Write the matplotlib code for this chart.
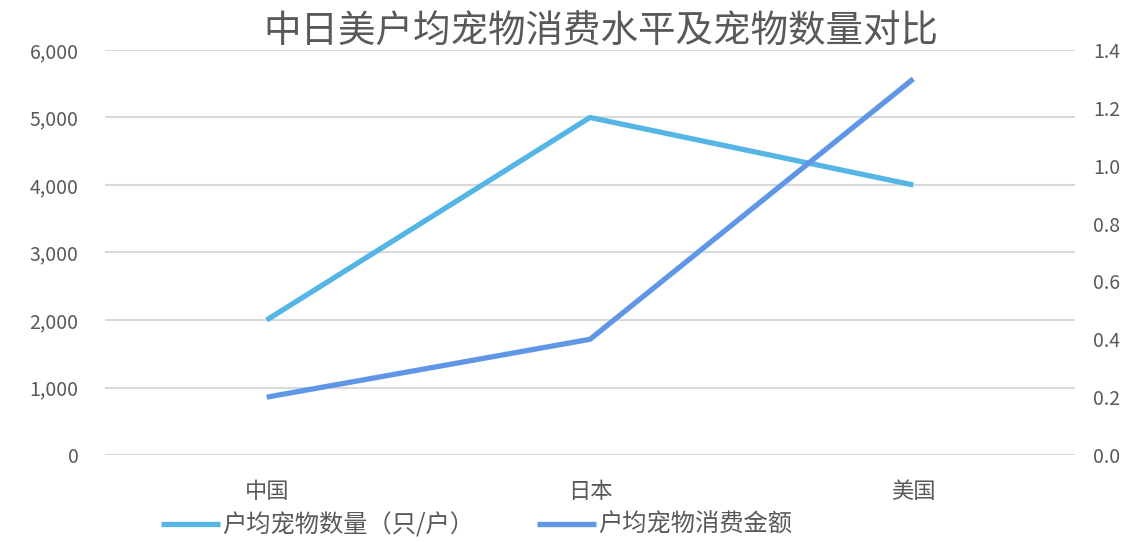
import matplotlib.pyplot as plt
from matplotlib.ticker import FuncFormatter

plt.rcParams['font.family'] = ['Noto Sans CJK SC', 'DejaVu Sans']

# data
countries = ['中国', '日本', '美国']
pets_per_household = [2000, 5000, 4000]      # left axis
spend_per_household = [0.2, 0.4, 1.3]        # right axis

grey = '#595959'
c_pets = '#55B5E5'
c_spend = '#5F96E6'

fig = plt.figure(figsize=(11.32, 5.43), dpi=100)
ax = fig.add_axes([0.0928, 0.162, 0.8568, 0.746])
ax2 = ax.twinx()

x = range(len(countries))
l1, = ax.plot(x, pets_per_household, color=c_pets, lw=3.8,
              solid_capstyle='butt', label='户均宠物数量（只/户）')
l2, = ax2.plot(x, spend_per_household, color=c_spend, lw=3.8,
               solid_capstyle='butt', label='户均宠物消费金额')

ax.set_xlim(-0.5, 2.5)
ax.set_ylim(0, 6000)
ax.set_yticks(range(0, 6001, 1000))
ax.yaxis.set_major_formatter(FuncFormatter(lambda v, p: f'{int(v):,}'))
ax2.set_ylim(0, 1.4)
ax2.set_yticks([i * 0.2 for i in range(8)])
ax2.yaxis.set_major_formatter(FuncFormatter(lambda v, p: f'{v:.1f}'))

ax.set_xticks(list(x))
ax.set_xticklabels(countries)

ax.grid(axis='y', color='#D9D9D9', lw=1.5)
ax.set_axisbelow(True)

for a in (ax, ax2):
    for s in a.spines.values():
        s.set_visible(False)

ax.tick_params(axis='y', length=0, pad=19, labelsize=14, labelcolor=grey)
ax.tick_params(axis='x', length=0, pad=18, labelsize=16, labelcolor=grey)
ax2.tick_params(axis='y', length=0, pad=13, labelsize=14, labelcolor=grey)

fig.text(0.531, 0.941, '中日美户均宠物消费水平及宠物数量对比', ha='center', va='center',
         fontsize=27, color=grey)

fig.legend(handles=[l1, l2], loc='center', bbox_to_anchor=(0.421, 0.033), ncol=2,
           frameon=False, fontsize=17.5, labelcolor=grey, handlelength=2.4,
           handletextpad=0.1, columnspacing=2.6)

fig.savefig('out.png', dpi=100)
